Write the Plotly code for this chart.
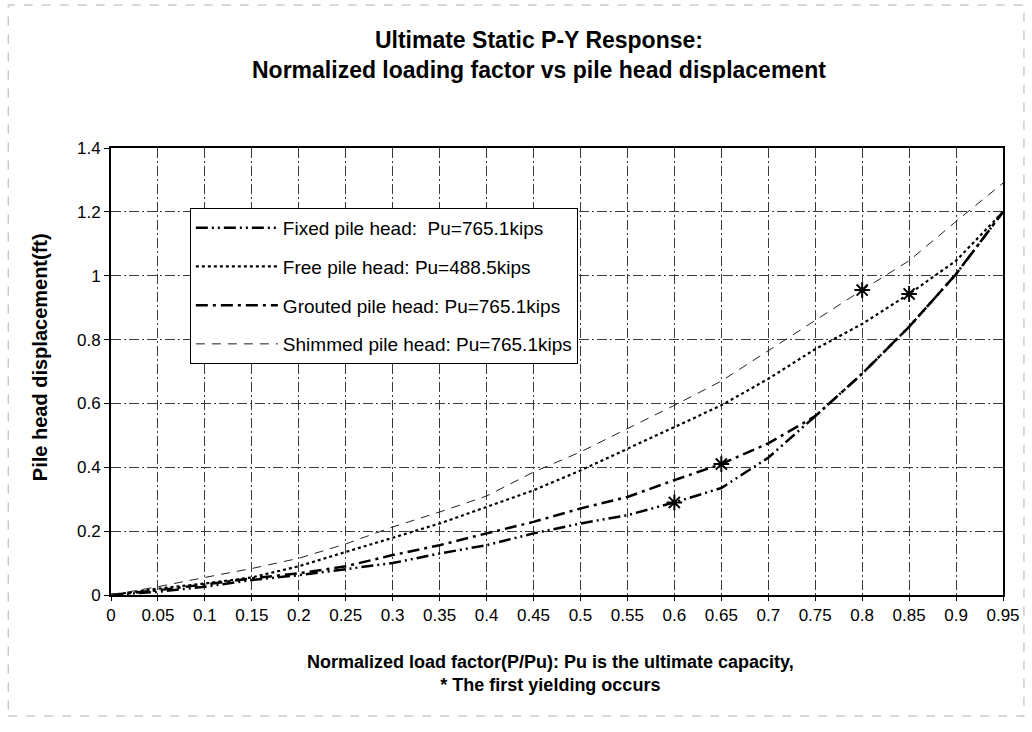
import plotly.graph_objects as go

# ---- data ----
load_factor = [0, 0.05, 0.1, 0.15, 0.2, 0.25, 0.3, 0.35, 0.4, 0.45,
               0.5, 0.55, 0.6, 0.65, 0.7, 0.75, 0.8, 0.85, 0.9, 0.95]
tick_labels = ["0", "0.05", "0.1", "0.15", "0.2", "0.25", "0.3", "0.35", "0.4", "0.45",
               "0.5", "0.55", "0.6", "0.65", "0.7", "0.75", "0.8", "0.85", "0.9", "0.95"]

fixed_disp = [0, 0.01, 0.026, 0.047, 0.062, 0.08, 0.10, 0.13, 0.156, 0.193,
              0.224, 0.25, 0.29, 0.335, 0.43, 0.56, 0.693, 0.84, 1.005, 1.2]
free_disp = [0, 0.02, 0.036, 0.055, 0.09, 0.135, 0.18, 0.224, 0.276, 0.328,
             0.39, 0.458, 0.526, 0.594, 0.677, 0.77, 0.849, 0.943, 1.047, 1.2]
grouted_disp = [0, 0.015, 0.033, 0.052, 0.068, 0.09, 0.125, 0.156, 0.193, 0.229,
                0.271, 0.307, 0.36, 0.41, 0.475, 0.56, 0.693, 0.84, 1.005, 1.2]
shimmed_disp = [0, 0.026, 0.055, 0.083, 0.115, 0.16, 0.213, 0.26, 0.31, 0.385,
                0.448, 0.52, 0.594, 0.67, 0.766, 0.86, 0.955, 1.047, 1.17, 1.29]

yield_x = [0.6, 0.65, 0.8, 0.85]
yield_y = [0.29, 0.41, 0.955, 0.943]

y_ticks = [0, 0.2, 0.4, 0.6, 0.8, 1.0, 1.2, 1.4]
y_tick_labels = ["0", "0.2", "0.4", "0.6", "0.8", "1", "1.2", "1.4"]

series_names = ["Fixed pile head:  Pu=765.1kips",
                "Free pile head: Pu=488.5kips",
                "Grouted pile head: Pu=765.1kips",
                "Shimmed pile head: Pu=765.1kips"]

FONT = "Liberation Sans, Arial, sans-serif"

fig = go.Figure()
styles = [
    (fixed_disp, dict(color="black", width=2.5, dash="12px,4px,2px,4px,2px,4px")),
    (free_disp, dict(color="black", width=2.2, dash="dot")),
    (grouted_disp, dict(color="black", width=2.5, dash="12px,5px,3px,5px")),
    (shimmed_disp, dict(color="#222", width=1, dash="9px,7px")),
]
for i, ((ys, ln), name) in enumerate(zip(styles, series_names)):
    fig.add_trace(go.Scatter(x=load_factor, y=ys, mode="lines", name=name,
                             line=ln, legendgroup=f"g{i}"))

fig.add_trace(go.Scatter(x=yield_x, y=yield_y, mode="markers", showlegend=False,
                         marker=dict(symbol="asterisk-open", size=13, color="black",
                                     line=dict(color="black", width=2))))

grid = dict(showgrid=True, gridcolor="#3a3a3a", gridwidth=1,
            griddash="10px,3px,2px,3px")

fig.update_xaxes(range=[0, 0.95], tickvals=load_factor, ticktext=tick_labels,
                 showline=True, linecolor="black", linewidth=2, mirror=True,
                 ticks="outside", ticklen=4, tickcolor="black",
                 tickfont=dict(family=FONT, size=17, color="black"),
                 zeroline=False, **grid)
fig.update_yaxes(range=[0, 1.4], tickvals=y_ticks, ticktext=y_tick_labels,
                 showline=True, linecolor="black", linewidth=2, mirror=True,
                 ticks="outside", ticklen=5, tickcolor="black",
                 tickfont=dict(family=FONT, size=17, color="black"),
                 zeroline=False, **grid)

fig.update_layout(
    width=1032, height=732,
    margin=dict(l=111, r=27, t=148, b=137),
    paper_bgcolor="white", plot_bgcolor="white",
    showlegend=True,
    legend=dict(x=0.0884, y=0.866, xanchor="left", yanchor="top",
                bgcolor="white", bordercolor="black", borderwidth=1,
                font=dict(family=FONT, size=19, color="black"),
                traceorder="grouped", tracegroupgap=11, itemwidth=82),
    annotations=[
        dict(text="<b>Ultimate Static P-Y Response:<br>Normalized loading factor vs pile head displacement</b>",
             xref="paper", yref="paper", x=(540 - 111) / 894, y=(595 - 55) / 447,
             xanchor="center", yanchor="middle",
             showarrow=False, font=dict(family=FONT, size=23, color="black")),
        dict(text="<b>Normalized load factor(P/Pu): Pu is the ultimate capacity,<br>* The first yielding occurs</b>",
             xref="paper", yref="paper", x=(551 - 111) / 894, y=(595 - 673) / 447,
             xanchor="center", yanchor="middle",
             showarrow=False, font=dict(family=FONT, size=18, color="black")),
        dict(text="<b>Pile head displacement(ft)</b>", textangle=-90,
             xref="paper", yref="paper", x=(40 - 111) / 894, y=(595 - 357) / 447,
             xanchor="center", yanchor="middle",
             showarrow=False, font=dict(family=FONT, size=20, color="black")),
    ],
    shapes=[
        dict(type="rect", xref="paper", yref="paper",
             x0=(8 - 111) / 894, x1=(1026 - 111) / 894,
             y0=(595 - 716) / 447, y1=(595 - 5) / 447,
             line=dict(color="#b0b0b0", width=1, dash="dash")),
    ],
)

fig.write_html("out.html", config={"displayModeBar": False},
               post_script="document.body.style.margin='0';")
